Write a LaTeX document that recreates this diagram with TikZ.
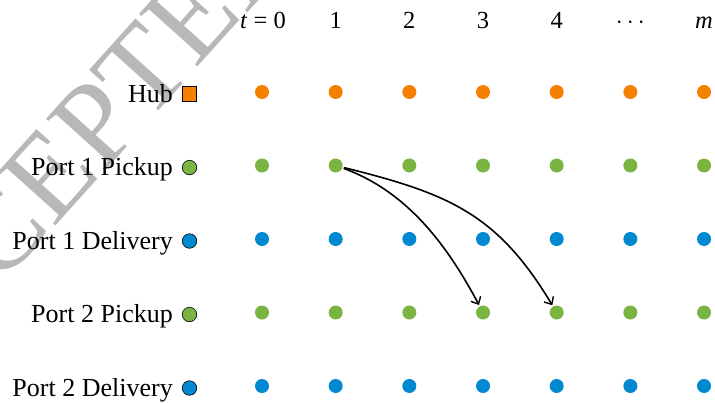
\documentclass[tikz,border=0pt]{standalone}
\usepackage{fontspec}
\setmainfont{Liberation Serif}
\usetikzlibrary{arrows.meta}
\definecolor{hubc}{RGB}{245,128,0}
\definecolor{pickc}{RGB}{122,180,66}
\definecolor{delc}{RGB}{0,136,209}
\definecolor{wmark}{RGB}{184,184,184}
\begin{document}
\begin{tikzpicture}[x=1pt,y=1pt,
  dot/.style={circle,inner sep=0pt,minimum size=14pt,draw=none,outer sep=1.5pt},
  legcirc/.style={circle,inner sep=0pt,minimum size=14.5pt,draw=black,line width=0.6pt},
  legsq/.style={rectangle,inner sep=0pt,minimum size=14.5pt,draw=black,line width=0.6pt},
  lbl/.style={anchor=base east,inner sep=0pt,font=\fontsize{26}{30}\selectfont},
  hdr/.style={anchor=base,inner sep=0pt,font=\fontsize{24.5}{30}\selectfont},
  arr/.style={line width=1.6pt,-{Straight Barb[length=6pt,width=11pt,line width=1.4pt]}},
  wm/.style={rotate=48,anchor=base west,inner sep=0pt,text=wmark,font=\fontsize{120}{120}\selectfont}]
\useasboundingbox (0,0) rectangle (715,-402);
\begin{scope}
  \clip (0,0) rectangle (715,-402);
  \node[wm] (wmk) at (-112,-412) {ACCEPTED MANUSCRIPT};
\end{scope}
% header
\node[hdr] (h0) at (263,-28) {\textit{t} = 0};
\foreach \j/\t in {1/1,2/2,3/3,4/4,5/{$\cdots$},6/\textit{m}}
  \node[hdr] (h\j) at ({262+73.67*\j},-28) {\t};
% dots
\foreach \r/\c in {0/hubc,1/pickc,2/delc,3/pickc,4/delc}
  \foreach \j in {0,...,6}
    \node[dot,fill=\c] (d-\r-\j) at ({262+73.67*\j},{-92-73.5*\r}) {};
% legend markers
\node[legsq,fill=hubc] (lg-0) at (189.5,-94) {};
\foreach \r/\c in {1/pickc,2/delc,3/pickc,4/delc}
  \node[legcirc,fill=\c] (lg-\r) at (189.5,{-94-73.5*\r}) {};
% labels
\foreach \r/\t in {0/Hub,1/Port 1 Pickup,2/Port 1 Delivery,3/Port 2 Pickup,4/Port 2 Delivery}
  \node[lbl] (lb-\r) at (173,{-102-73.5*\r}) {\t};
% arrows
\draw[arr] (d-1-1) to[out=-20,in=118,looseness=0.9] (d-3-3);
\draw[arr] (d-1-1) to[out=-14,in=121,looseness=1.1] (d-3-4);
\end{tikzpicture}
\end{document}
